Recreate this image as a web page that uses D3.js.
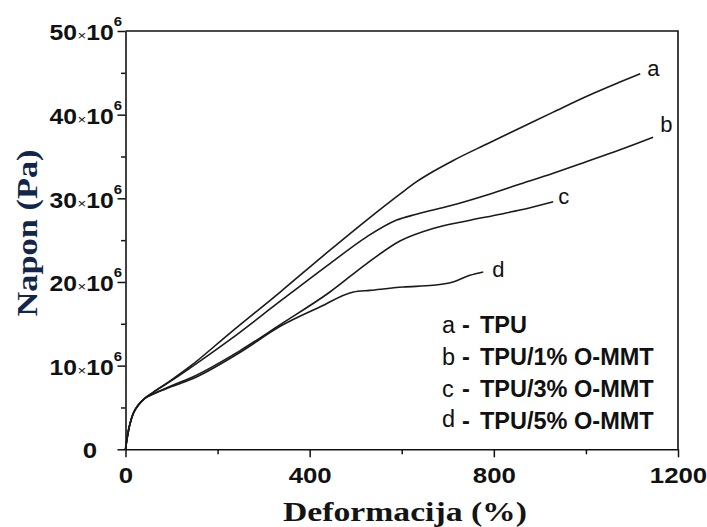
<!DOCTYPE html>
<html><head><meta charset="utf-8">
<script src="https://cdn.jsdelivr.net/npm/d3@7"></script>
<style>body{margin:0;background:#fff;} svg{display:block}</style>
</head><body>
<svg id="chart" width="707" height="527"></svg>
<script>
// ---- data ----
const xTicks = [0, 400, 800, 1200];
const xMinorTicks = [200, 600, 1000];
const yTicks = [0, 10, 20, 30, 40, 50];          // ×10^6 Pa
const yMinorTicks = [5, 15, 25, 35, 45];
const seriesIds = ["a", "b", "c", "d"];
const legendNames = ["TPU", "TPU/1% O-MMT", "TPU/3% O-MMT", "TPU/5% O-MMT"];

const strainA = [0,2,4,7,10,17,28,42,60,100,140,227,336,444,524,596,630,668,711,785,857,929,1002,1074,1118];
const stressA = [0,0.8,1.5,2.4,3.1,4.3,5.3,6.1,6.8,8.3,9.9,13.9,18.8,23.8,27.4,30.5,31.9,33.2,34.5,36.5,38.4,40.3,42.2,43.9,44.9];
const strainB = [0,2,4,7,10,17,28,42,60,100,140,227,336,444,524,589,632,705,785,857,929,1002,1074,1146];
const stressB = [0,0.8,1.5,2.4,3.1,4.3,5.3,6.1,6.8,8.2,9.7,13.1,17.7,22.2,25.4,27.4,28.1,29.1,30.4,31.7,33.0,34.4,35.8,37.3];
const strainC = [0,2,4,7,10,17,28,42,60,100,140,249,336,444,524,596,668,741,814,857,929];
const stressC = [0,0.8,1.5,2.4,3.1,4.3,5.3,6.1,6.6,7.6,8.5,11.8,14.9,18.8,22.2,24.9,26.4,27.3,28.1,28.6,29.6];
const strainD = [0,2,4,7,10,17,28,42,60,100,140,249,336,422,495,531,603,668,711,748,777];
const stressD = [0,0.8,1.5,2.4,3.1,4.3,5.3,6.1,6.6,7.5,8.3,11.6,14.7,17.0,18.8,19.0,19.4,19.6,20.0,20.8,21.2];

const seriesData = [
  d3.zip(strainA, stressA),
  d3.zip(strainB, stressB),
  d3.zip(strainC, stressC),
  d3.zip(strainD, stressD)
];

// ---- layout ----
const svg = d3.select("#chart");
const X0 = 125.5, X1 = 678, Y0 = 449.3, Y1 = 31;
const x = d3.scaleLinear().domain([0, 1200]).range([X0, X1]);
const y = d3.scaleLinear().domain([0, 50]).range([Y0, Y1]);
const sansFont = "'Liberation Sans', Arial, Helvetica, sans-serif";
const serifFont = "'Liberation Serif', 'Times New Roman', serif";

// frame (top & right)
svg.append("path")
  .attr("d", `M${X0},${Y1}H${X1}V${Y0}`)
  .attr("fill", "none").attr("stroke", "#111").attr("stroke-width", 1.6);

// minor ticks
svg.append("g").attr("transform", `translate(0,${Y0})`)
  .call(d3.axisBottom(x).tickValues(xMinorTicks).tickSize(5).tickFormat(""))
  .call(g => g.select(".domain").remove())
  .selectAll("line").attr("stroke", "#111").attr("stroke-width", 1.5);
svg.append("g").attr("transform", `translate(${X0},0)`)
  .call(d3.axisLeft(y).tickValues(yMinorTicks).tickSize(4.5).tickFormat(""))
  .call(g => g.select(".domain").remove())
  .selectAll("line").attr("stroke", "#111").attr("stroke-width", 1.5);

// x axis
const gx = svg.append("g").attr("transform", `translate(0,${Y0})`)
  .call(d3.axisBottom(x).tickValues(xTicks).tickSize(8).tickSizeOuter(0).tickFormat(d3.format("d")));
gx.select(".domain").attr("stroke", "#111").attr("stroke-width", 1.6);
gx.selectAll(".tick line").attr("stroke", "#111").attr("stroke-width", 1.5);
gx.selectAll(".tick text")
  .attr("y", 0).attr("dy", null)
  .attr("transform", "translate(0,34) scale(1.2,1)")
  .attr("font-family", sansFont).attr("font-weight", "bold")
  .attr("font-size", 21.5).attr("fill", "#111");

// y axis
const gy = svg.append("g").attr("transform", `translate(${X0},0)`)
  .call(d3.axisLeft(y).tickValues(yTicks).tickSize(8).tickSizeOuter(0));
gy.select(".domain").attr("stroke", "#111").attr("stroke-width", 1.6);
gy.selectAll(".tick line").attr("stroke", "#111").attr("stroke-width", 1.5);
gy.selectAll(".tick text").each(function(d) {
  const t = d3.select(this).text(null)
    .attr("x", 0).attr("dy", null)
    .attr("text-anchor", "end")
    .attr("font-family", sansFont).attr("fill", "#111");
  if (d === 0) {
    t.attr("transform", "translate(-28.5,7.8) scale(1.2,1)")
     .append("tspan").attr("font-weight", "bold").attr("font-size", 21.5).text("0");
  } else {
    t.attr("transform", "translate(-3.5,8.8) scale(1.15,1)");
    t.append("tspan").attr("font-weight", "bold").attr("font-size", 21.5).text(d3.format("d")(d));
    t.append("tspan").attr("font-weight", "normal").attr("font-size", 13).attr("dx", 0.5).text("×");
    t.append("tspan").attr("font-weight", "bold").attr("font-size", 21.5).text("10");
    t.append("tspan").attr("font-weight", "bold").attr("font-size", 13).attr("dy", -14).text("6");
  }
});

// lines
const line = d3.line().x(d => x(d[0])).y(d => y(d[1])).curve(d3.curveMonotoneX);
svg.append("g").selectAll("path").data(seriesData).join("path")
  .attr("d", line)
  .attr("fill", "none").attr("stroke", "#1a1a1a").attr("stroke-width", 1.6)
  .attr("stroke-linejoin", "round");

// curve end labels
const endLabelOffsets = [[7, 2], [7, -5.5], [5, 2.5], [9, 5]];
svg.append("g").selectAll("text").data(seriesData).join("text")
  .attr("x", (d, i) => x(d[d.length - 1][0]) + endLabelOffsets[i][0])
  .attr("y", (d, i) => y(d[d.length - 1][1]) + endLabelOffsets[i][1])
  .attr("font-family", sansFont).attr("font-size", 22).attr("fill", "#111")
  .text((d, i) => seriesIds[i]);

// legend
const legendRows = [333, 365, 397, 429];
const lg = svg.append("g");
seriesIds.forEach((id, i) => {
  const t = lg.append("text").attr("y", legendRows[i])
    .attr("font-family", sansFont).attr("font-size", 23.5).attr("fill", "#111");
  t.append("tspan").attr("x", 442).attr("dy", i === 3 ? -2 : 0).text(id);
  t.append("tspan").attr("x", 462).attr("dy", i === 3 ? 2 : 0).attr("font-weight", "bold").text("-");
  t.append("tspan").attr("x", 480).attr("font-weight", "bold").text(legendNames[i]);
});

// axis titles
svg.append("text")
  .attr("x", 405).attr("y", 521)
  .attr("text-anchor", "middle")
  .attr("font-family", serifFont).attr("font-weight", "bold")
  .attr("font-size", 27).attr("fill", "#141414")
  .attr("textLength", 244).attr("lengthAdjust", "spacingAndGlyphs")
  .text("Deformacija (%)");
svg.append("text")
  .attr("transform", "translate(37,233) rotate(-90)")
  .attr("text-anchor", "middle")
  .attr("font-family", serifFont).attr("font-weight", "bold")
  .attr("font-size", 30).attr("fill", "#11264a")
  .attr("textLength", 167).attr("lengthAdjust", "spacingAndGlyphs")
  .text("Napon (Pa)");
</script>
</body></html>
